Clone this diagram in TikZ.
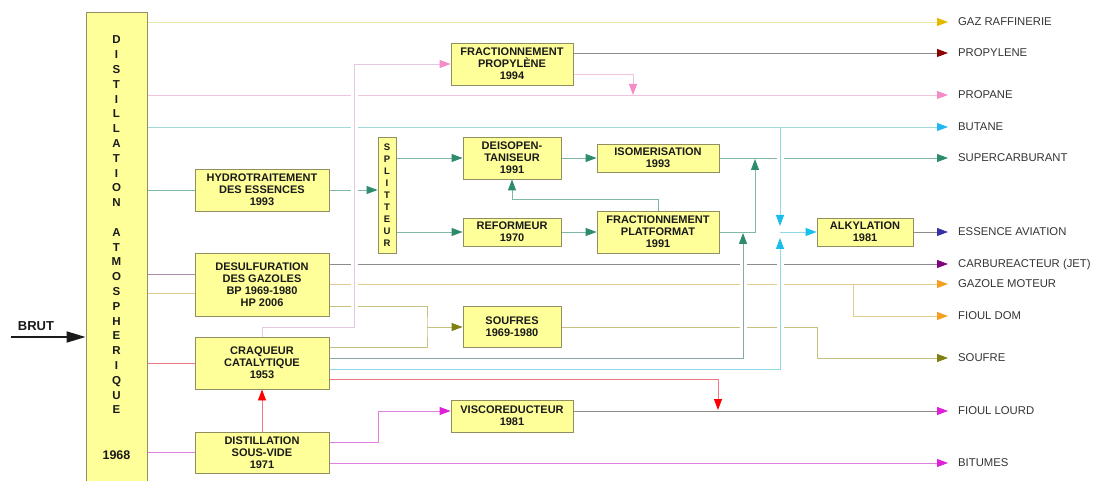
\documentclass[tikz,border=0pt]{standalone}
\usepackage{fontspec}
\setmainfont{Liberation Sans}
\usetikzlibrary{arrows.meta,backgrounds}
\definecolor{boxfill}{HTML}{FFFF99}
\definecolor{boxline}{HTML}{8F8F5F}
\definecolor{txt}{HTML}{1A1A1A}
\definecolor{lbltxt}{HTML}{333333}
\definecolor{cGaz}{HTML}{EAEAA8}
\definecolor{aGaz}{HTML}{E8B800}
\definecolor{cGray}{HTML}{8C8C8C}
\definecolor{aPropy}{HTML}{8B0000}
\definecolor{cPink}{HTML}{F0C4DC}
\definecolor{aPink}{HTML}{F48CC8}
\definecolor{cPinkL}{HTML}{E4C8E0}
\definecolor{cTeal}{HTML}{80B8A8}
\definecolor{aGreen}{HTML}{2E8B6E}
\definecolor{cGrayTeal}{HTML}{8AA8A8}
\definecolor{cCyanL}{HTML}{A0D8D8}
\definecolor{aButane}{HTML}{20B8F0}
\definecolor{cCyan}{HTML}{90D8E8}
\definecolor{aCyan}{HTML}{18BEF0}
\definecolor{cMauve}{HTML}{B088A8}
\definecolor{cTan}{HTML}{E4CC90}
\definecolor{aOrange}{HTML}{F5A020}
\definecolor{cOlive}{HTML}{C8C080}
\definecolor{aOlive}{HTML}{808010}
\definecolor{aJet}{HTML}{800080}
\definecolor{aAvia}{HTML}{3434A8}
\definecolor{cRedL}{HTML}{F07880}
\definecolor{aRed}{HTML}{FF0000}
\definecolor{cMag}{HTML}{E080E0}
\definecolor{aMag}{HTML}{E020D8}
\begin{document}
\begin{tikzpicture}[x=1pt,y=-1pt,
  box/.style={draw=boxline,fill=boxfill,line width=0.9pt,text=txt,align=center,inner sep=0pt,font=\bfseries\fontsize{11}{12}\selectfont},
  lbl/.style={anchor=west,inner xsep=10pt,inner ysep=0pt,text height=7.9pt,text depth=0pt,text=lbltxt,font=\fontsize{11.3}{13}\selectfont},
  ln/.style={line width=0.9pt},
  arr/.style={-{Triangle[length=11pt,width=8pt,color=#1]}},
  jumpover/.style={preaction={draw=white,line width=7pt,-}}]
\useasboundingbox (0,0) rectangle (1096,481);

% column
\begin{scope}
\clip (0,0) rectangle (1096,481);
\node[box,minimum width=61pt,minimum height=474pt] (col) at (116.5,249) {};
\end{scope}
\node[text=txt,align=center,inner sep=0pt,font=\bfseries\fontsize{11.5}{14.8}\selectfont] (coltxt) at (116.5,225)
  {D\\I\\S\\T\\I\\L\\L\\A\\T\\I\\O\\N\\\mbox{}\\A\\T\\M\\O\\S\\P\\H\\E\\R\\I\\Q\\U\\E};
\node[text=txt,inner sep=0pt,font=\bfseries\fontsize{12.5}{14}\selectfont] (yr) at (116.5,455) {1968};

% BRUT
\node[text=txt,inner sep=0pt,font=\bfseries\fontsize{13}{15}\selectfont] (brut) at (36,326) {BRUT};
\coordinate (brutin) at (11,337);
\draw[txt,line width=1.8pt,-{Triangle[length=19pt,width=11pt]}] (brutin) -- (col.west |- brutin);

% boxes
\node[box,minimum width=134pt,minimum height=42pt] (hydro) at (262,190) {HYDROTRAITEMENT\\DES ESSENCES\\1993};
\node[box,minimum width=134pt,minimum height=63pt] (desulf) at (262,284.5) {DESULFURATION\\DES GAZOLES\\BP 1969-1980\\HP 2006};
\node[box,minimum width=134pt,minimum height=52pt] (craq) at (262,363) {CRAQUEUR\\CATALYTIQUE\\1953};
\node[box,minimum width=134pt,minimum height=41pt] (dsv) at (262,452.5) {DISTILLATION\\SOUS-VIDE\\1971};
\node[box,minimum width=122pt,minimum height=42pt] (fp) at (512,64) {FRACTIONNEMENT\\PROPYLÈNE\\1994};
\node[box,minimum width=18pt,minimum height=116pt,font=\bfseries\fontsize{9.5}{12}\selectfont] (split) at (387,195) {S\\P\\L\\I\\T\\T\\E\\U\\R};
\node[box,minimum width=98pt,minimum height=42pt] (deiso) at (512,158) {DEISOPEN-\\TANISEUR\\1991};
\node[box,minimum width=122pt,minimum height=28pt] (iso) at (658,158) {ISOMERISATION\\1993};
\node[box,minimum width=98pt,minimum height=28pt] (ref) at (512,232) {REFORMEUR\\1970};
\node[box,minimum width=122pt,minimum height=42pt] (fplat) at (658,232) {FRACTIONNEMENT\\PLATFORMAT\\1991};
\node[box,minimum width=96pt,minimum height=28pt] (alky) at (865,232) {ALKYLATION\\1981};
\node[box,minimum width=98pt,minimum height=41pt] (soufres) at (512,326.5) {SOUFRES\\1969-1980};
\node[box,minimum width=122pt,minimum height=32pt] (visco) at (512,416) {VISCOREDUCTEUR\\1981};

% labels
\node[lbl] (lgaz) at (948,22) {GAZ RAFFINERIE};
\node[lbl] (lpropy) at (948,53) {PROPYLENE};
\node[lbl] (lpropane) at (948,95) {PROPANE};
\node[lbl] (lbutane) at (948,127) {BUTANE};
\node[lbl] (lsuper) at (948,158) {SUPERCARBURANT};
\node[lbl] (lavia) at (948,232) {ESSENCE AVIATION};
\node[lbl] (ljet) at (948,264) {CARBUREACTEUR (JET)};
\node[lbl] (lgazole) at (948,284) {GAZOLE MOTEUR};
\node[lbl] (ldom) at (948,316) {FIOUL DOM};
\node[lbl] (lsoufre) at (948,358) {SOUFRE};
\node[lbl] (llourd) at (948,411) {FIOUL LOURD};
\node[lbl] (lbit) at (948,463) {BITUMES};

% junction points
\coordinate (pdrop) at (633,95);
\coordinate (gj) at (853,284);
\coordinate (sj) at (427,327);
\coordinate (sdrop) at (817,358);
\coordinate (gup) at (743,233);
\coordinate (cup) at (780,238);
\coordinate (bj) at (780,127);
\coordinate (cdown) at (780,226);
\coordinate (cj) at (780,232);
\coordinate (fup) at (755,159);
\coordinate (pj) at (354,327);
\coordinate (rdrop) at (718,410);
\coordinate (vj) at (378,411);

\begin{scope}[on background layer]
\draw[ln,cGaz,arr=aGaz] (col.east |- lgaz.west) -- (lgaz.west);
\draw[ln,cGray,arr=aPropy] (fp.east |- lpropy.west) -- (lpropy.west);
\draw[ln,cPink,arr=aPink] (col.east |- lpropane.west) -- (lpropane.west);
\draw[ln,cPink,arr=aPink] (fp.east |- 0,74) -| (pdrop);
\draw[ln,cTeal] (col.east |- hydro.west) -- (hydro.west);
\draw[ln,cTeal,arr=aGreen] (hydro.east) -- (split.west |- hydro.east);
\draw[ln,cTeal,arr=aGreen] (split.east |- deiso.west) -- (deiso.west);
\draw[ln,cTeal,arr=aGreen] (split.east |- ref.west) -- (ref.west);
\draw[ln,cTeal,arr=aGreen] (deiso.east) -- (iso.west |- deiso.east);
\draw[ln,cTeal,arr=aGreen] (ref.east) -- (fplat.west);
\draw[ln,cTeal,arr=aGreen] (fplat.north) -- ++(0,-11) -| (deiso.south);
\draw[ln,cTeal,arr=aGreen] (iso.east |- lsuper.west) -- (lsuper.west);
\draw[ln,cMauve] (col.east |- 0,274) -- (desulf.west |- 0,274);
\draw[ln,cTan] (col.east |- 0,293) -- (desulf.west |- 0,293);
\draw[ln,cGray,arr=aJet] (desulf.east |- ljet.west) -- (ljet.west);
\draw[ln,cTan,arr=aOrange] (desulf.east |- lgazole.west) -- (lgazole.west);
\draw[ln,cTan,arr=aOrange] (gj) |- (ldom.west);
\draw[ln,cOlive] (desulf.east |- 0,306) -| (sj) |- (craq.east |- 0,347);
\draw[ln,cOlive,arr=aOlive] (sj) -- (soufres.west |- sj);
\draw[ln,cOlive,arr=aOlive] (soufres.east |- sj) -| (sdrop) -- (lsoufre.west);
\draw[ln,cGrayTeal,jumpover,arr=aGreen] (craq.east |- 0,358) -| (gup);
\draw[ln,cCyan,jumpover,arr=aCyan] (craq.east |- 0,369) -| (cup);
\draw[ln,cCyan,jumpover,arr=aCyan] (bj) -- (cdown);
\draw[ln,cCyanL,arr=aButane] (col.east |- lbutane.west) -- (lbutane.west);
\draw[ln,cCyan,arr=aCyan] (cj) -- (alky.west);
\draw[ln,cTeal,arr=aGreen] (fplat.east) -| (fup);
\draw[ln,cPinkL,jumpover,arr=aPink] (craq.north) |- (pj) |- (fp.west);
\draw[ln,cGray,arr=aAvia] (alky.east) -- (lavia.west);
\draw[ln,cRedL] (col.east |- craq.west) -- (craq.west);
\draw[ln,cMag] (col.east |- 0,452) -- (dsv.west |- 0,452);
\draw[ln,cRedL,arr=aRed] (dsv.north) -- (craq.south);
\draw[ln,cRedL,arr=aRed] (craq.east |- 0,379) -| (rdrop);
\draw[ln,cMag,arr=aMag] (dsv.east |- 0,442) -| (vj) -- (visco.west |- vj);
\draw[ln,cGray,arr=aMag] (visco.east |- llourd.west) -- (llourd.west);
\draw[ln,cMag,arr=aMag] (dsv.east |- lbit.west) -- (lbit.west);
\end{scope}
\end{tikzpicture}
\end{document}
